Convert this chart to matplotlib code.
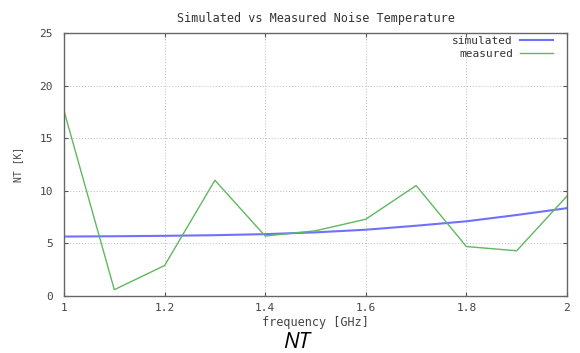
import matplotlib
matplotlib.use("Agg")
import matplotlib.pyplot as plt

freq = [1.0, 1.1, 1.2, 1.3, 1.4, 1.5, 1.6, 1.7, 1.8, 1.9, 2.0]
simulated = [5.65, 5.68, 5.72, 5.78, 5.88, 6.05, 6.3, 6.68, 7.1, 7.7, 8.35]
measured = [17.6, 0.6, 2.9, 11.0, 5.7, 6.2, 7.3, 10.5, 4.7, 4.3, 9.5]
xticks = [1.0, 1.2, 1.4, 1.6, 1.8, 2.0]
xticklabels = ["1", "1.2", "1.4", "1.6", "1.8", "2"]
yticks = [0, 5, 10, 15, 20, 25]

mono = "DejaVu Sans Mono"
fig = plt.figure(figsize=(5.8, 3.53), dpi=100)
W, H = 580, 353
left, right, top, bottom = 64, 567, 33, 296
ax = fig.add_axes([left / W, 1 - bottom / H, (right - left) / W, (bottom - top) / H])

ax.plot(freq, simulated, color="#7070ff", lw=1.5, label="simulated")
ax.plot(freq, measured, color="#60b860", lw=1.0, label="measured")

ax.set_xlim(1, 2)
ax.set_ylim(0, 25)
ax.set_xticks(xticks)
ax.set_xticklabels(xticklabels)
ax.set_yticks(yticks)
ax.grid(True, color="#bbbbbb", linestyle=(0, (1, 2)), lw=0.7)
ax.tick_params(direction="in", length=3, top=True, right=True, labelsize=8,
               color="#555555", labelcolor="#444444")
for lbl in ax.get_xticklabels() + ax.get_yticklabels():
    lbl.set_family(mono)
for s in ax.spines.values():
    s.set_color("#666666")
    s.set_linewidth(1.0)
ax.tick_params(axis="x", pad=5)
ax.tick_params(axis="y", pad=8)

ax.set_title("Simulated vs Measured Noise Temperature", fontsize=8.5, family=mono,
             color="#333333", pad=8)
ax.set_xlabel("frequency [GHz]", fontsize=8.5, family=mono, color="#444444", labelpad=2)
ax.set_ylabel("NT [K]", fontsize=7, family=mono, color="#444444", labelpad=12)

leg = ax.legend(loc="upper right", frameon=False, markerfirst=False,
                prop={"family": mono, "size": 8}, handlelength=3.0,
                bbox_to_anchor=((553 - left) / (right - left), 1 - 3 / (bottom - top)),
                borderaxespad=0, borderpad=0, handletextpad=0.6, labelspacing=0.25)
for t in leg.get_texts():
    t.set_color("#333333")

fig.text(296 / W, 1 - 347.5 / H, "NT", fontsize=16, style="italic",
         family="Open Sans", ha="center", va="baseline")

fig.savefig("out.png", dpi=100)
